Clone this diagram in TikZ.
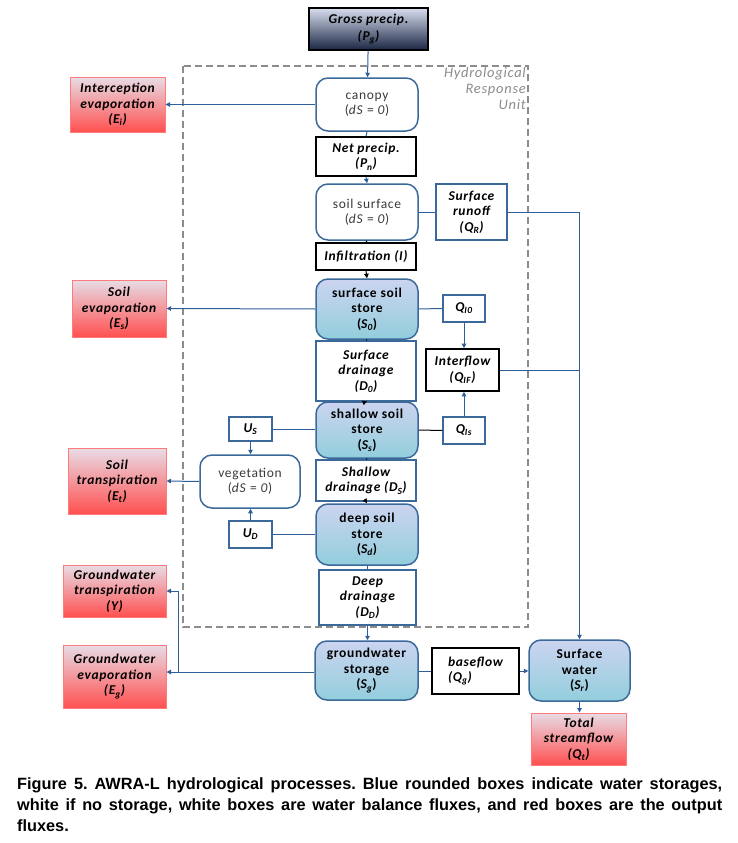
\documentclass[tikz,border=0pt]{standalone}
\usepackage{fontspec}
\setmainfont{Carlito}[LetterSpace=5]
\newfontfamily\capfont{Liberation Sans}
\usetikzlibrary{arrows.meta}
\definecolor{lineblue}{HTML}{2F5F98}
\definecolor{boxblue}{HTML}{3B6A9A}
\definecolor{storetop}{HTML}{CCD4F0}
\definecolor{storebot}{HTML}{92CEDC}
\definecolor{redtop}{HTML}{E8DCE6}
\definecolor{redbot}{HTML}{FF5050}
\definecolor{redline}{HTML}{FF7A7A}
\definecolor{navytop}{HTML}{D8DEEE}
\definecolor{navybot}{HTML}{1A2644}
\definecolor{hrugray}{HTML}{8C8C8C}
\definecolor{txtgray}{HTML}{3A3A3A}
\tikzset{
  base/.style={align=center, inner sep=1pt, font=\fontsize{13.5}{15.5}\selectfont},
  fluxb/.style={base, draw=boxblue, line width=1.3pt, fill=white, font=\fontsize{13.5}{15.5}\selectfont\bfseries\itshape},
  fluxk/.style={base, draw=black, line width=1.6pt, fill=white, font=\fontsize{13.5}{15.5}\selectfont\bfseries\itshape},
  store/.style={base, rounded corners=12pt, draw=boxblue, line width=1.5pt, top color=storetop, bottom color=storebot, font=\fontsize{13.5}{15.5}\selectfont\bfseries},
  nostore/.style={base, rounded corners=12pt, draw=boxblue, line width=1.5pt, fill=white, text=txtgray},
  outbox/.style={base, draw=redline, line width=1pt, top color=redtop, bottom color=redbot, font=\fontsize{13.5}{15.5}\selectfont\bfseries\itshape},
  conn/.style={draw=lineblue, line width=1pt},
  arr/.style={conn, -{Triangle[length=4.5pt,width=4.5pt]}},
  connk/.style={draw=black, line width=1pt},
  arrk/.style={connk, -{Triangle[length=4.5pt,width=4.5pt]}},
}
\begin{document}
\begin{tikzpicture}[x=1pt,y=-1pt]
\fill[white] (0,0) rectangle (738,843);
\useasboundingbox (0,0) rectangle (738,843);

% HRU
\draw[hrugray, line width=2.2pt, dash pattern=on 7pt off 4pt] (183,66) rectangle (528,627);
\node[anchor=north east, align=right, inner sep=0pt, text=hrugray, font=\fontsize{14.5}{16}\selectfont\itshape] (hru) at (526,67) {Hydrological\\Response\\Unit};

% nodes
\node[base, draw=black, line width=1.2pt, top color=navytop, bottom color=navybot, minimum width=119pt, minimum height=42pt, font=\fontsize{13.5}{17}\selectfont\bfseries\itshape] (gross) at (368.5,29) {Gross precip.\\(P\textsubscript{g})};

\node[nostore, minimum width=102pt, minimum height=53pt] (canopy) at (367,104.5) {canopy\\(\textit{dS} = \textit{0})};
\node[outbox, minimum width=95pt, minimum height=55pt] (intercep) at (117.5,104.5) {Interception\\evaporation\\(E\textsubscript{i})};
\node[fluxk, minimum width=100pt, minimum height=39pt] (netp) at (366,156.5) {Net precip.\\(P\textsubscript{n})};
\node[nostore, minimum width=102pt, minimum height=56pt] (soilsurf) at (367,212) {soil surface\\(\textit{dS} = \textit{0})};
\node[fluxb, minimum width=71pt, minimum height=56pt] (runoff) at (471.5,212) {Surface\\runoff\\(Q\textsubscript{R})};
\node[fluxk, minimum width=100pt, minimum height=27pt] (infil) at (366,256.5) {Infiltration (I)};
\node[store, minimum width=102pt, minimum height=60pt] (sss) at (367,309) {surface soil\\store\\(\textit{S\textsubscript{0}})};
\node[outbox, minimum width=94pt, minimum height=57pt] (soilevap) at (119,308.5) {Soil\\evaporation\\(E\textsubscript{s})};
\node[fluxb, minimum width=42pt, minimum height=27pt] (qi0) at (464,308.5) {Q\textsubscript{I0}};
\node[fluxb, minimum width=100pt, minimum height=60pt] (surfdrain) at (366,371) {Surface\\drainage\\(D\textsubscript{0})};
\node[fluxk, minimum width=73pt, minimum height=42pt] (interflow) at (462.5,370) {Interflow\\(Q\textsubscript{IF})};
\node[fluxb, minimum width=42pt, minimum height=27pt] (qis) at (464,430.5) {Q\textsubscript{Is}};
\node[store, minimum width=102pt, minimum height=56pt] (shallow) at (367,430) {shallow soil\\store\\(\textit{S\textsubscript{s}})};
\node[fluxb, minimum width=43pt, minimum height=24pt] (us) at (250.5,429) {U\textsubscript{S}};
\node[nostore, minimum width=100pt, minimum height=53pt] (veg) at (250,481.5) {vegetation\\(\textit{dS} = \textit{0})};
\node[outbox, minimum width=98pt, minimum height=66pt] (soiltrans) at (117,481) {Soil\\transpiration\\(E\textsubscript{t})};
\node[fluxb, minimum width=100pt, minimum height=41pt] (shdrain) at (366,480.5) {Shallow\\drainage (D\textsubscript{S})};
\node[store, minimum width=102pt, minimum height=61pt] (deep) at (367,534.5) {deep soil\\store\\(\textit{S\textsubscript{d}})};
\node[fluxb, minimum width=43pt, minimum height=27pt] (ud) at (250.5,534.5) {U\textsubscript{D}};
\node[fluxb, minimum width=97pt, minimum height=55pt] (deepdrain) at (367.5,597.5) {Deep\\drainage\\(D\textsubscript{D})};
\node[store, minimum width=103pt, minimum height=59pt] (gws) at (366.5,670.5) {groundwater\\storage\\(\textit{S\textsubscript{g}})};
\node[outbox, minimum width=103pt, minimum height=52pt] (gwtrans) at (114.5,591) {Groundwater\\transpiration\\(Y)};
\node[outbox, minimum width=103pt, minimum height=63pt] (gwevap) at (114.5,676.5) {Groundwater\\evaporation\\(E\textsubscript{g})};
\node[fluxk, minimum width=87pt, minimum height=46pt, align=left] (baseflow) at (475.5,671) {baseflow\\(Q\textsubscript{g})};
\node[store, minimum width=101pt, minimum height=61pt] (sw) at (579.5,670.5) {Surface\\water\\(\textit{S\textsubscript{r}})};
\node[outbox, minimum width=95pt, minimum height=52pt] (total) at (578.5,739) {Total\\streamflow\\(Q\textsubscript{t})};

\coordinate (gwj) at (178,672);

% connectors
\draw[arr] (gross) -- (canopy);
\draw[arr] (canopy.west) -- (intercep.east);
\draw[conn] (canopy.south) -- (netp.north);
\draw[arr] (netp.south) -- (soilsurf.north);
\draw[conn] (soilsurf.east) -- (runoff.west);
\draw[arr] (runoff.east) -| (sw.north);
\draw[connk] (soilsurf.south) -- (infil.north);
\draw[arrk] (infil.south) -- (sss.north);
\draw[arr] (sss.west) -- (soilevap.east);
\draw[conn] (sss.east) -- (qi0.west);
\draw[arr] (qi0.south) -- (qi0.south |- interflow.north);
\draw[connk] (sss.south) -- (surfdrain.north);
\draw[arrk] (surfdrain.south) -- (shallow.north);
\draw[conn] (interflow.east) -- (interflow.east -| sw.north);
\draw[connk] (shallow.east) -- (qis.west);
\draw[arr] (qis.north) -- (qis.north |- interflow.south);
\draw[conn] (us.east) -- (shallow.west |- us.east);
\draw[arr] (us.south) -- (us.south |- veg.north);
\draw[arr] (veg.west) -- (soiltrans.east);
\draw[connk] (shallow.south) -- (shdrain.north);
\draw[arrk] (shdrain.south) -- (deep.north);
\draw[conn] (ud.east) -- (deep.west |- ud.east);
\draw[arr] (ud.north) -- (ud.north |- veg.south);
\draw[conn] (deep.south) -- (deep.south |- deepdrain.north);
\draw[arr] (deepdrain.south) -- (deepdrain.south |- gws.north);
\draw[conn] (gws.west |- gwj) -- (gwj);
\draw[arr] (gwj) -- (gwj -| gwevap.east);
\draw[arr] (gwj) |- (gwtrans.east);
\draw[conn] (gws.east |- baseflow.west) -- (baseflow.west);
\draw[arr] (baseflow.east) -- (sw.west |- baseflow.east);
\draw[arr] (sw.south) -- (sw.south |- total.north);

% caption
\node[anchor=north west, inner sep=0pt, text width=705pt, align=justify, font=\capfont\bfseries\fontsize{16.3}{21}\selectfont] (cap) at (17,777) {\frenchspacing Figure 5. AWRA-L hydrological processes. Blue rounded boxes indicate water storages,\linebreak white if no storage, white boxes are water balance fluxes, and red boxes are the output\linebreak fluxes.};
\end{tikzpicture}
\end{document}
